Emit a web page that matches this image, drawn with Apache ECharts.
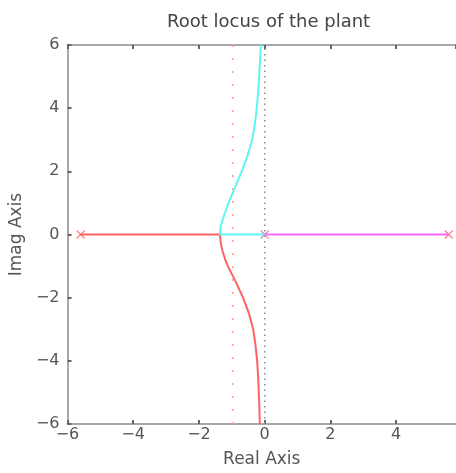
<!DOCTYPE html>
<html>
<head>
<meta charset="utf-8">
<script src="https://cdn.jsdelivr.net/npm/echarts@6/dist/echarts.min.js"></script>
<style>html,body{margin:0;padding:0;background:#fff}#c{width:456px;height:473px}</style>
</head>
<body>
<div id="c"></div>
<script>
// ---- data ----
const titleText = 'Root locus of the plant';
const xName = 'Real Axis';
const yName = 'Imag Axis';
const xMin = -6, xMax = 5.82, yMin = -6, yMax = 6, tickStep = 2;
const poles = [-5.6, 0];          // open-loop poles on real axis (x markers)
const zeroRight = 5.6;            // right-end marker
const breakaway = -1.36;          // break-away point
const asymptoteX = -0.97;         // pink dotted asymptote
const imagAxisX = 0;              // gray dotted reference
// upper branch (cyan): imaginary parts and real parts
const upperImag = [0, 0.25, 0.5, 0.8, 1.0, 1.5, 2.0, 2.5, 3.0, 3.5, 4.0, 4.5, 5.0, 5.5, 6.0];
const upperReal = [-1.36, -1.34, -1.27, -1.17, -1.1, -0.9, -0.7, -0.52, -0.38, -0.3, -0.24, -0.2, -0.17, -0.14, -0.12];
// lower branch (red)
const lowerImag = [0, -0.25, -0.5, -0.8, -1.0, -1.5, -2.0, -2.5, -3.0, -3.5, -4.0, -4.5, -5.0, -5.5, -6.0];
const lowerReal = [-1.36, -1.34, -1.29, -1.2, -1.12, -0.88, -0.66, -0.48, -0.35, -0.28, -0.23, -0.2, -0.18, -0.16, -0.15];

// ---- build ----
const redData = [[poles[0], 0]].concat(lowerReal.map((r, i) => [r, lowerImag[i]]));
const cyanData = [[poles[1], 0]].concat(upperReal.map((r, i) => [r, upperImag[i]]));
const magentaData = [[poles[1], 0], [zeroRight, 0]];
const fmt = v => (v < 0 ? '\u2212' + (-v) : String(v));
const font = 'DejaVu Sans';
const axisCol = '#a8a8a8';
const xSym = 'path://M0,0L10,10M10,0L0,10';

const chart = echarts.init(document.getElementById('c'));
chart.setOption({
  animation: false,
  backgroundColor: '#fff',
  title: {
    text: titleText, left: 162, top: 8,
    textStyle: {fontFamily: font, fontSize: 18, fontWeight: 'normal', color: '#444'}
  },
  grid: {left: 66, top: 45, right: 0, height: 387, containLabel: false},
  xAxis: [{
    type: 'value', min: xMin, max: xMax, interval: tickStep, position: 'bottom',
    name: xName, nameLocation: 'middle', nameGap: 27,
    nameTextStyle: {fontFamily: font, fontSize: 17, color: '#555'},
    axisLine: {show: true, onZero: false, lineStyle: {color: axisCol, width: 2}},
    axisTick: {show: true, inside: true, length: 4, lineStyle: {color: '#666', width: 2}},
    axisLabel: {formatter: fmt, margin: 3, fontFamily: font, fontSize: 16, color: '#555', showMaxLabel: false},
    splitLine: {show: false}
  }, {
    type: 'value', min: xMin, max: xMax, interval: tickStep, position: 'top',
    axisLine: {show: true, onZero: false, lineStyle: {color: axisCol, width: 2}},
    axisTick: {show: true, inside: true, length: 4, lineStyle: {color: '#666', width: 2}},
    axisLabel: {show: false}, splitLine: {show: false}
  }],
  yAxis: [{
    type: 'value', min: yMin, max: yMax, interval: tickStep, position: 'left',
    name: yName, nameLocation: 'middle', nameGap: 40,
    nameTextStyle: {fontFamily: font, fontSize: 17, color: '#555'},
    axisLine: {show: true, onZero: false, lineStyle: {color: axisCol, width: 2}},
    axisTick: {show: true, inside: true, length: 4, lineStyle: {color: '#666', width: 2}},
    axisLabel: {formatter: fmt, margin: 8, fontFamily: font, fontSize: 16, color: '#555'},
    splitLine: {show: false}
  }],
  series: [
    {type: 'line', data: [[imagAxisX, yMin], [imagAxisX, yMax]], symbol: 'none', silent: true,
     lineStyle: {color: '#8a8a8a', width: 1.5, type: [1.5, 4]}},
    {type: 'line', data: [[asymptoteX, yMin], [asymptoteX, yMax]], symbol: 'none', silent: true,
     lineStyle: {color: '#ff9a9a', width: 1.5, type: [2, 11]}},
    {type: 'line', data: magentaData, symbol: 'none', lineStyle: {color: '#ff66ff', width: 2}},
    {type: 'line', data: redData, symbol: 'none', lineStyle: {color: '#ff6262', width: 2}},
    {type: 'line', data: cyanData, symbol: 'none', lineStyle: {color: '#60f4f4', width: 2}},
    {type: 'scatter', data: [[poles[0], 0], [zeroRight, 0]], symbol: xSym, symbolSize: 8,
     itemStyle: {color: 'none', borderColor: '#ff6a6a', borderWidth: 1.5}},
    {type: 'scatter', data: [[poles[1], 0]], symbol: xSym, symbolSize: 8,
     itemStyle: {color: 'none', borderColor: '#e07a90', borderWidth: 1.5}}
  ]
});
</script>
</body>
</html>
